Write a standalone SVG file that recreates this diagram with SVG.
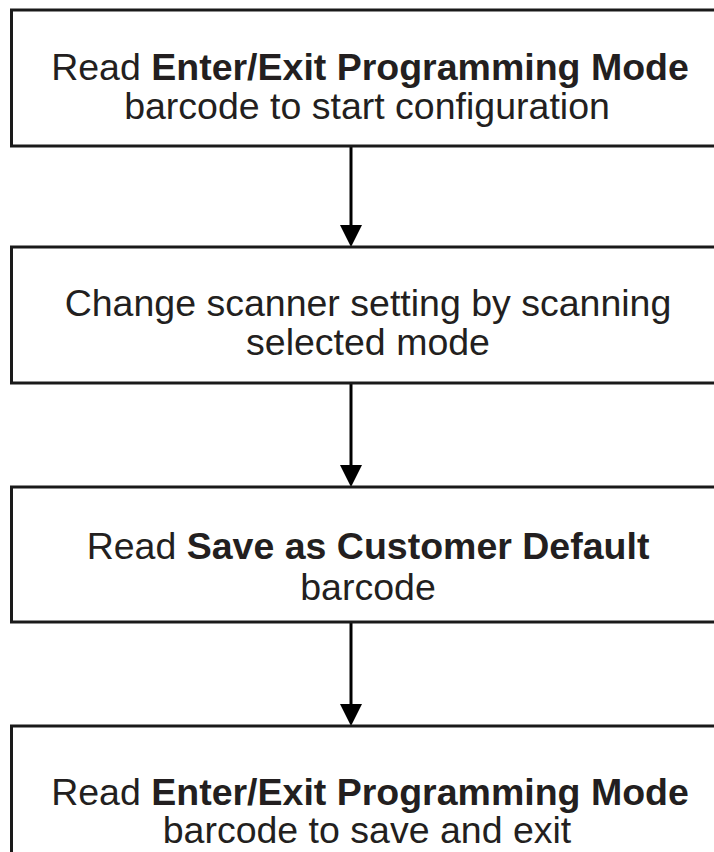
<svg xmlns="http://www.w3.org/2000/svg" width="714" height="852" viewBox="0 0 714 852">
<defs>
<style>
.box{fill:#fff;stroke:#1a1a1a;stroke-width:3}
.t{font-family:"Liberation Sans",Arial,sans-serif;font-size:37.5px;fill:#231f20;text-anchor:middle}
.b{font-weight:bold}
.c{stroke:#000;stroke-width:3;fill:none}
</style>
</defs>
<rect width="714" height="852" fill="#fff"/>
<g id="connectors">
<line class="c" x1="351" y1="146" x2="351" y2="225"/>
<path d="M340,225 L362,225 L351,247 Z" fill="#000"/>
<line class="c" x1="351" y1="383" x2="351" y2="465"/>
<path d="M340,465 L362,465 L351,487 Z" fill="#000"/>
<line class="c" x1="351" y1="622" x2="351" y2="704"/>
<path d="M340,704 L362,704 L351,726 Z" fill="#000"/>
</g>
<g id="node1">
<rect class="box" x="11.5" y="10" width="720" height="136"/>
<text class="t" x="370" y="80">Read <tspan class="b">Enter/Exit Programming Mode</tspan></text>
<text class="t" x="367" y="119">barcode to start configuration</text>
</g>
<g id="node2">
<rect class="box" x="11.5" y="247" width="720" height="136"/>
<text class="t" x="368" y="316">Change scanner setting by scanning</text>
<text class="t" x="368" y="355">selected mode</text>
</g>
<g id="node3">
<rect class="box" x="11.5" y="487" width="720" height="135"/>
<text class="t" x="368" y="559">Read <tspan class="b">Save as Customer Default</tspan></text>
<text class="t" x="368" y="600">barcode</text>
</g>
<g id="node4">
<rect class="box" x="11.5" y="726" width="720" height="140"/>
<text class="t" x="370" y="805">Read <tspan class="b">Enter/Exit Programming Mode</tspan></text>
<text class="t" x="367" y="843">barcode to save and exit</text>
</g>
</svg>
